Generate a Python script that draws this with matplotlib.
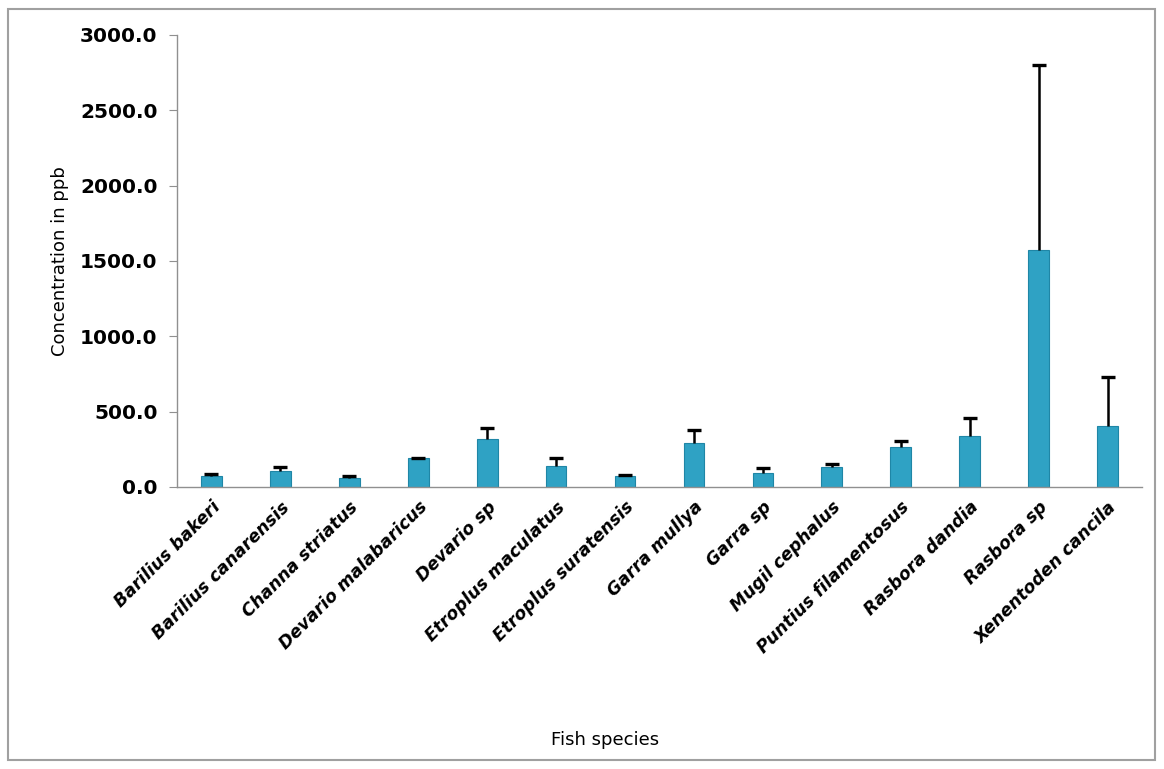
import matplotlib
matplotlib.use("Agg")
import matplotlib.pyplot as plt
from matplotlib.patches import Rectangle
import numpy as np

species = ["Barilius bakeri", "Barilius canarensis", "Channa striatus",
           "Devario malabaricus", "Devario sp", "Etroplus maculatus",
           "Etroplus suratensis", "Garra mullya", "Garra sp", "Mugil cephalus",
           "Puntius filamentosus", "Rasbora dandia", "Rasbora sp",
           "Xenentoden cancila"]
means = [70, 105, 60, 190, 320, 140, 75, 290, 95, 135, 265, 340, 1575, 405]
errors = [15, 25, 12, 5, 70, 50, 5, 90, 30, 20, 40, 115, 1225, 325]
yticks = [0, 500, 1000, 1500, 2000, 2500, 3000]

fig = plt.figure(figsize=(11.64, 7.69), dpi=100)
fig.patches.append(Rectangle((8/1164, 9/769), (1155-8)/1164, (760-9)/769,
                             transform=fig.transFigure, fill=False,
                             edgecolor="#a0a0a0", linewidth=1.5))
ax = fig.add_axes([177/1164, 1-487/769, (1142-177)/1164, (487-35)/769])

x = np.arange(len(species))
m = np.array(means)
e = np.array(errors)
ax.bar(x, m, width=0.3, color="#2fa2c4", edgecolor="#1f86a6", linewidth=0.8, zorder=2)
# upper-only error bars
ax.vlines(x, m, m + e, colors="black", linewidth=1.8, zorder=3)
ax.scatter(x, m + e, marker="_", s=110, linewidths=2.4, color="black", zorder=3)

ax.set_xlim(-0.5, 13.5)
ax.set_ylim(0, 3000)
ax.set_yticks(yticks)
ax.set_yticklabels([f"{v:.1f}" for v in yticks], fontweight="bold", fontsize=14.5)
ax.set_xticks(x)
ax.set_xticklabels(species, rotation=45, ha="right", rotation_mode="anchor",
                   fontstyle="italic", fontweight="bold", fontsize=12.5)
ax.tick_params(axis="x", length=0, pad=8)
ax.tick_params(axis="y", length=6, color="#909090", direction="out", pad=8)
for s in ["top", "right"]:
    ax.spines[s].set_visible(False)
for s in ["left", "bottom"]:
    ax.spines[s].set_color("#909090")
    ax.spines[s].set_linewidth(1.0)
ax.set_ylabel("Concentration in ppb", fontsize=13, labelpad=8)
fig.text(0.5 + 0.02, 1-740/769, "Fish species", ha="center", va="center", fontsize=13)

fig.savefig("out.png", dpi=100)
